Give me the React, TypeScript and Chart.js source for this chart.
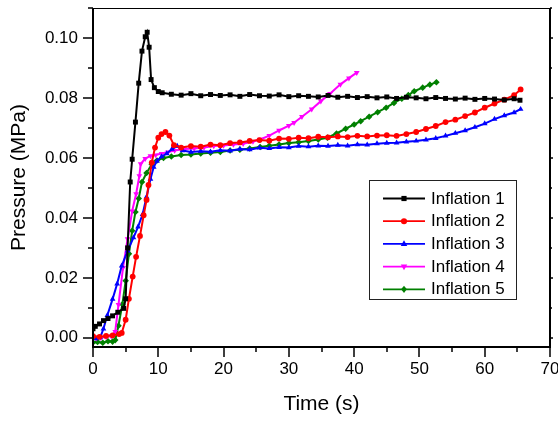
import React, { useEffect, useRef } from "react";
import { Chart, registerables } from "chart.js";

Chart.register(...registerables);

const seriesNames = ["Inflation 1", "Inflation 2", "Inflation 3", "Inflation 4", "Inflation 5"];
const seriesColors = ["#000000", "#ff0000", "#0000ff", "#ff00ff", "#008000"];
const seriesMarkers = ["square", "circle", "triangleUp", "triangleDown", "diamond"];

const t1 = [0, 0.35, 1.0, 1.6, 2.3, 3.0, 3.8, 4.7, 5.0, 5.3, 5.7, 6.0, 6.5, 7.0, 7.5, 8.0, 8.3, 8.6, 8.9, 9.4, 10.0, 10.6, 12, 13.5, 15, 16.5, 18, 19.5, 21, 22.5, 24, 25.5, 27, 28.5, 30, 31.5, 33, 34.5, 36, 37.5, 39, 40.5, 42, 43.5, 45, 46.5, 48, 49.5, 51, 52.5, 54, 55.5, 57, 58.5, 60, 61.5, 63, 64.5, 65.4];
const p1 = [0.003, 0.0038, 0.0046, 0.0057, 0.0064, 0.0073, 0.0085, 0.0098, 0.013, 0.03, 0.052, 0.0596, 0.072, 0.085, 0.0957, 0.1005, 0.102, 0.097, 0.0862, 0.0835, 0.0822, 0.0818, 0.0813, 0.081, 0.0815, 0.0808, 0.0812, 0.0809, 0.0811, 0.0806, 0.0812, 0.0808, 0.0807, 0.0811, 0.0805, 0.0808, 0.0806, 0.0804, 0.0809, 0.0803, 0.0806, 0.0802, 0.0805, 0.0801, 0.0804, 0.0799, 0.0803, 0.0801, 0.0798, 0.0802, 0.0799, 0.0797, 0.08, 0.0796, 0.0799, 0.0797, 0.0794, 0.0798, 0.0793];

const t2 = [0, 1.0, 2.0, 3.0, 4.0, 4.4, 5.0, 5.5, 6.08, 6.6, 7.2, 7.76, 8.2, 8.5, 9.0, 9.5, 10.0, 10.5, 11.1, 11.7, 12.4, 13.5, 15, 16.5, 18, 19.5, 21, 22.5, 24, 25.5, 27, 28.5, 30, 31.5, 33, 34.5, 36, 37.5, 39, 40.5, 42, 43.5, 45, 46.5, 48, 49.5, 51, 52.5, 54, 55.5, 57, 58.5, 60, 61.5, 63, 64.5, 65.5];
const p2 = [0.0005, 0.0003, 0.0006, 0.0008, 0.0012, 0.0016, 0.006, 0.013, 0.0204, 0.027, 0.034, 0.0409, 0.046, 0.051, 0.0585, 0.0635, 0.0668, 0.068, 0.0687, 0.0675, 0.0643, 0.0635, 0.064, 0.0638, 0.0645, 0.0643, 0.065, 0.0652, 0.0657, 0.066, 0.0658, 0.0665, 0.0664, 0.0668, 0.0666, 0.0671, 0.0669, 0.0672, 0.067, 0.0674, 0.0672, 0.0675, 0.0676, 0.0674, 0.068, 0.0687, 0.0697, 0.0707, 0.072, 0.0728, 0.074, 0.0752, 0.0768, 0.0782, 0.0795, 0.081, 0.0829];

const t3 = [0, 0.5, 1.1, 1.6, 2.2, 3.0, 3.7, 4.4, 5.3, 6.2, 6.9, 7.6, 8.2, 8.8, 9.3, 9.8, 10.5, 11.3, 12.1, 12.9, 13.7, 15, 16.5, 18, 19.5, 21, 22.5, 24, 25.5, 27, 28.5, 30, 31.5, 33, 34.5, 36, 37.5, 39, 40.5, 42, 43.5, 45, 46.5, 48, 49.5, 51, 52.5, 54, 55.5, 57, 58.5, 60, 61.5, 63, 64.5, 65.5];
const p3 = [0.0, -0.0003, 0.0, 0.003, 0.0075, 0.0129, 0.018, 0.024, 0.029, 0.0334, 0.037, 0.0412, 0.047, 0.053, 0.057, 0.059, 0.0605, 0.0615, 0.063, 0.064, 0.0625, 0.062, 0.0623, 0.0621, 0.0626, 0.0624, 0.063, 0.0628, 0.0634, 0.0632, 0.0636, 0.0635, 0.064, 0.0638, 0.0641, 0.064, 0.0643, 0.0641, 0.0645, 0.0644, 0.0648, 0.065, 0.0651, 0.0654, 0.0657, 0.0661, 0.0666, 0.0674, 0.0683, 0.0692, 0.0703, 0.0715, 0.073, 0.0742, 0.0752, 0.0763];

const t4 = [0, 0.5, 1.2, 2.0, 2.8, 3.4, 3.9, 4.6, 5.3, 6.0, 6.6, 7.1, 7.3, 8.0, 8.8, 9.6, 10.5, 11.5, 12.5, 14, 15.5, 17, 18.5, 20, 21.5, 23, 24.5, 25.6, 27, 28.5, 30, 30.8, 32, 33.5, 34.9, 36.3, 37.9, 39.2, 40.4];
const p4 = [0.0003, -0.0002, 0.0, 0.0003, 0.0005, 0.002, 0.011, 0.0234, 0.033, 0.0423, 0.048, 0.054, 0.058, 0.0598, 0.0607, 0.061, 0.0615, 0.062, 0.0625, 0.063, 0.0632, 0.0635, 0.064, 0.0642, 0.0645, 0.0648, 0.0655, 0.0662, 0.0675, 0.0692, 0.0708, 0.0718, 0.0738, 0.0763, 0.079, 0.0815, 0.0846, 0.0867, 0.0885];

const t5 = [0, 0.7, 1.5, 2.3, 3.0, 3.4, 3.9, 4.5, 5.0, 5.5, 6.0, 6.5, 7.0, 7.5, 8.2, 9.0, 9.8, 10.8, 12, 13.5, 15, 16.5, 18, 19.5, 21, 22.5, 24, 25.6, 27, 28.5, 30, 31.5, 33, 34.5, 35.9, 37.3, 38.7, 40, 41, 42.3, 43.6, 44.9, 46.1, 47.3, 48.3, 49.2, 50.5, 51.6, 52.6];
const p5 = [-0.0016, -0.0014, -0.0017, -0.0012, -0.0013, -0.0008, 0.004, 0.0112, 0.019, 0.028, 0.0357, 0.042, 0.0465, 0.052, 0.055, 0.0579, 0.0592, 0.06, 0.0605, 0.061, 0.0612, 0.0615, 0.0618, 0.062, 0.0625, 0.0628, 0.0632, 0.0637, 0.0641, 0.0645, 0.065, 0.0653, 0.0657, 0.0662, 0.0668, 0.0682, 0.0698, 0.0712, 0.0723, 0.0738, 0.0753, 0.0768, 0.0784, 0.0798, 0.081, 0.0823, 0.0835, 0.0845, 0.0853];

const seriesTimes = [t1, t2, t3, t4, t5];
const seriesValues = [p1, p2, p3, p4, p5];

const xMajorTicks = [0, 10, 20, 30, 40, 50, 60, 70];
const xMinorTicks = [5, 15, 25, 35, 45, 55, 65];
const yMajorTicks = [0, 0.02, 0.04, 0.06, 0.08, 0.1];
const yMinorTicks = [0.01, 0.03, 0.05, 0.07, 0.09, 0.11];

const xTitle = "Time (s)";
const yTitle = "Pressure (MPa)";

const FONT = "'Liberation Sans', Arial, sans-serif";

function drawMarker(ctx: CanvasRenderingContext2D, kind: string, x: number, y: number, r: number) {
  ctx.beginPath();
  if (kind === "square") {
    ctx.rect(x - r * 0.72, y - r * 0.72, r * 1.44, r * 1.44);
  } else if (kind === "circle") {
    ctx.arc(x, y, r * 0.85, 0, Math.PI * 2);
  } else if (kind === "triangleUp") {
    ctx.moveTo(x, y - r);
    ctx.lineTo(x + r * 0.9, y + r * 0.6);
    ctx.lineTo(x - r * 0.9, y + r * 0.6);
    ctx.closePath();
  } else if (kind === "triangleDown") {
    ctx.moveTo(x, y + r);
    ctx.lineTo(x + r * 0.9, y - r * 0.6);
    ctx.lineTo(x - r * 0.9, y - r * 0.6);
    ctx.closePath();
  } else {
    ctx.moveTo(x, y - r);
    ctx.lineTo(x + r * 0.8, y);
    ctx.lineTo(x, y + r);
    ctx.lineTo(x - r * 0.8, y);
    ctx.closePath();
  }
  ctx.fill();
}

const framePlugin = {
  id: "frame",
  afterDraw(chart: any) {
    const { ctx, chartArea: a, scales } = chart;
    const xs = scales.x;
    const ys = scales.y;
    ctx.save();
    ctx.strokeStyle = "#000";
    ctx.lineWidth = 1;
    ctx.beginPath();
    ctx.moveTo(a.left, a.top + 0.5);
    ctx.lineTo(a.right, a.top + 0.5);
    ctx.stroke();
    ctx.lineWidth = 2;
    ctx.beginPath();
    ctx.moveTo(a.left, a.top);
    ctx.lineTo(a.left, a.bottom);
    ctx.lineTo(a.right, a.bottom);
    ctx.lineTo(a.right, a.top);
    ctx.stroke();

    ctx.lineWidth = 1.5;
    ctx.beginPath();
    xMajorTicks.forEach((v) => {
      const px = Math.round(xs.getPixelForValue(v));
      ctx.moveTo(px, a.bottom);
      ctx.lineTo(px, a.bottom + 10);
    });
    xMinorTicks.forEach((v) => {
      const px = Math.round(xs.getPixelForValue(v));
      ctx.moveTo(px, a.bottom);
      ctx.lineTo(px, a.bottom + 5);
    });
    yMajorTicks.forEach((v) => {
      const py = Math.round(ys.getPixelForValue(v));
      ctx.moveTo(a.left, py);
      ctx.lineTo(a.left - 10, py);
      ctx.moveTo(a.right, py);
      ctx.lineTo(a.right + 3, py);
    });
    yMinorTicks.forEach((v) => {
      const py = Math.round(ys.getPixelForValue(v));
      if (py < a.top - 1) return;
      ctx.moveTo(a.left, py);
      ctx.lineTo(a.left - 5, py);
      ctx.moveTo(a.right, py);
      ctx.lineTo(a.right + 2, py);
    });
    ctx.stroke();

    // legend box
    const bx = a.left + 276;
    const by = a.top + 172;
    const bw = 147;
    const bh = 119;
    ctx.fillStyle = "#fff";
    ctx.fillRect(bx, by, bw, bh);
    ctx.strokeStyle = "#222";
    ctx.lineWidth = 1;
    ctx.strokeRect(bx + 0.5, by + 0.5, bw, bh);
    ctx.font = `17px ${FONT}`;
    ctx.textBaseline = "middle";
    ctx.textAlign = "left";
    seriesNames.forEach((name, i) => {
      const ry = by + 18.5 + i * 22.7;
      ctx.strokeStyle = seriesColors[i];
      ctx.fillStyle = seriesColors[i];
      ctx.lineWidth = 1.8;
      ctx.beginPath();
      ctx.moveTo(bx + 14, ry);
      ctx.lineTo(bx + 56, ry);
      ctx.stroke();
      drawMarker(ctx, seriesMarkers[i], bx + 35, ry, 3.6);
      ctx.fillStyle = "#000";
      ctx.fillText(name, bx + 62, ry + 0.5);
    });
    ctx.restore();
  },
};

const pointStyleFor: Record<string, string> = {
  square: "rect",
  circle: "circle",
  triangleUp: "triangle",
  triangleDown: "triangle",
  diamond: "rectRot",
};

export default function App() {
  const ref = useRef<HTMLCanvasElement | null>(null);
  useEffect(() => {
    document.body.style.margin = "0";
    const canvas = ref.current;
    if (!canvas) return;
    const datasets = seriesNames.map((name, i) => ({
      label: name,
      data: seriesTimes[i].map((t, j) => ({ x: t, y: seriesValues[i][j] })),
      borderColor: seriesColors[i],
      backgroundColor: seriesColors[i],
      borderWidth: 2,
      pointStyle: pointStyleFor[seriesMarkers[i]],
      rotation: seriesMarkers[i] === "triangleDown" ? 180 : 0,
      pointRadius: seriesMarkers[i] === "circle" ? 2.9 : seriesMarkers[i] === "square" ? 3.5 : 3.3,
      pointBorderWidth: 0,
      tension: 0,
      showLine: true,
      fill: false,
    }));
    const chart = new Chart(canvas, {
      type: "line",
      data: { datasets },
      plugins: [framePlugin],
      options: {
        animation: false,
        responsive: false,
        layout: { padding: { top: 8, right: 8, left: 0, bottom: 0 } },
        plugins: { legend: { display: false }, tooltip: { enabled: false } },
        scales: {
          x: {
            type: "linear",
            min: 0,
            max: 70,
            afterBuildTicks: (s: any) => {
              s.ticks = xMajorTicks.map((v) => ({ value: v }));
            },
            afterFit: (s: any) => {
              s.height = 75;
              s.paddingLeft = 0;
              s.paddingRight = 0;
            },
            grid: { display: false, drawTicks: false },
            border: { display: false },
            ticks: {
              color: "#000",
              font: { family: FONT, size: 17 },
              padding: 12,
              maxRotation: 0,
              autoSkip: false,
            },
            title: {
              display: true,
              text: xTitle,
              color: "#000",
              font: { family: FONT, size: 21 },
              padding: { top: 0, bottom: 5 },
            },
          },
          y: {
            type: "linear",
            min: -0.0031,
            max: 0.1101,
            afterBuildTicks: (s: any) => {
              s.ticks = yMajorTicks.map((v) => ({ value: v }));
            },
            afterFit: (s: any) => {
              s.width = 93;
              s.paddingTop = 0;
              s.paddingBottom = 0;
            },
            grid: { display: false, drawTicks: false },
            border: { display: false },
            ticks: {
              color: "#000",
              font: { family: FONT, size: 17 },
              padding: 15,
              autoSkip: false,
              callback: (v: any) => Number(v).toFixed(2),
            },
            title: {
              display: true,
              text: yTitle,
              color: "#000",
              font: { family: FONT, size: 21 },
              padding: { top: 7, bottom: 0 },
            },
          },
        },
      },
    });
    return () => chart.destroy();
  }, []);
  return (
    <div style={{ width: 558, height: 422 }}>
      <canvas ref={ref} width={558} height={422} style={{ display: "block" }} />
    </div>
  );
}
